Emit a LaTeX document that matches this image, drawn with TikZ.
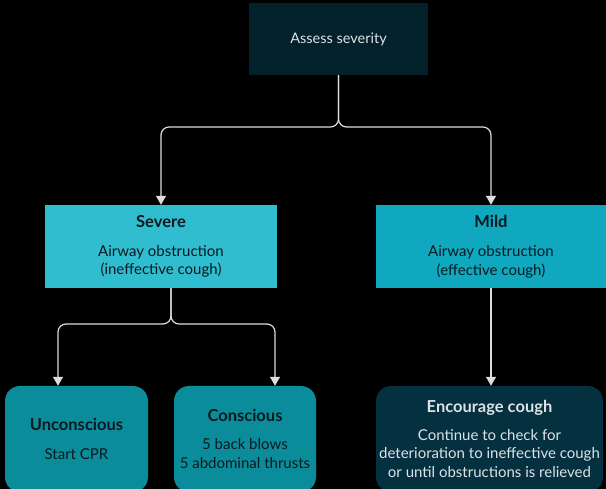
\documentclass[tikz,border=0pt]{standalone}
\usepackage{fontspec}
\setmainfont{Lato}
\usetikzlibrary{arrows.meta}
\definecolor{bgc}{HTML}{000000}
\definecolor{darkbox}{HTML}{03212B}
\definecolor{encbox}{HTML}{04303F}
\definecolor{severec}{HTML}{30BDD0}
\definecolor{mildc}{HTML}{0FA8BF}
\definecolor{actc}{HTML}{0B8C9B}
\definecolor{lightt}{HTML}{DCE3E6}
\definecolor{darkt}{HTML}{0A1A20}
\definecolor{linec}{HTML}{DDDDDD}
\newcommand{\ttl}[1]{{\fontsize{16.5}{18.5}\selectfont\bfseries #1}}
\tikzset{
  base/.style={inner sep=0pt, align=center, font=\fontsize{15}{18.8}\selectfont},
  topbox/.style={base, fill=darkbox, text=lightt, minimum width=179pt, minimum height=72pt, font=\fontsize{14.5}{18.5}\selectfont},
  sqbox/.style={base, text=darkt, minimum height=83pt},
  rbox/.style={base, rounded corners=15pt, minimum height=106pt},
  conn/.style={draw=linec, line width=1.2pt, rounded corners=8pt},
  arr/.style={conn, -{Triangle[width=10pt,length=9pt]}}
}
\begin{document}
\begin{tikzpicture}[x=1pt,y=-1pt]
\fill[bgc] (0,0) rectangle (606,489);
\useasboundingbox (0,0) rectangle (606,489);
\node[topbox] (assess) at (338.5,39) {Assess severity};
\node[sqbox, fill=severec, minimum width=232pt] (severe) at (161,246.5)
  {\ttl{Severe}\\[10pt]Airway obstruction\\(ineffective cough)};
\node[sqbox, fill=mildc, minimum width=230pt] (mild) at (491,246.5)
  {\ttl{Mild}\\[10pt]Airway obstruction\\(effective cough)};
\node[rbox, fill=actc, text=darkt, minimum width=143pt] (uncon) at (76.5,439)
  {\ttl{Unconscious}\\[10pt]Start CPR};
\node[rbox, fill=actc, text=darkt, minimum width=142pt] (consc) at (245,439)
  {\ttl{Conscious}\\[9pt]5 back blows\\5 abdominal thrusts};
\node[rbox, fill=encbox, text=lightt, minimum width=227pt] (enc) at (489.5,439)
  {\ttl{Encourage cough}\\[9pt]Continue to check for\\deterioration to ineffective cough\\or until obstructions is relieved};
\coordinate (j1) at (338.5,127);
\coordinate (j2) at (171,324);
\draw[arr] (assess.south) -- (j1) -| (severe.north);
\draw[arr] (assess.south) -- (j1) -| (mild.north);
\draw[arr] (j2 |- severe.south) -- (j2) -| (uncon.north -| 58,0);
\draw[arr] (j2 |- severe.south) -- (j2) -| (consc.north -| 275,0);
\draw[arr] (mild.south) -- (enc.north -| mild.south);
\end{tikzpicture}
\end{document}
